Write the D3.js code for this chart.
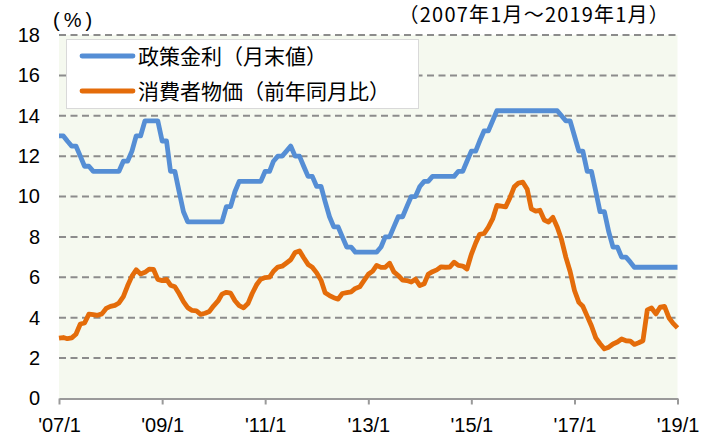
<!DOCTYPE html>
<html>
<head>
<meta charset="utf-8">
<script src="https://cdn.jsdelivr.net/npm/d3@7"></script>
<style>
  body { margin: 0; background: #fff; }
  svg { display: block; }
</style>
</head>
<body>
<div id="chart"></div>
<script>
// monthly values, 2007/1 .. 2019/1
const policyRate = [
  13.00, 13.00, 12.75, 12.50, 12.50, 12.00, 11.50, 11.50, 11.25, 11.25, 11.25, 11.25,
  11.25, 11.25, 11.25, 11.75, 11.75, 12.25, 13.00, 13.00, 13.75, 13.75, 13.75, 13.75,
  12.75, 12.75, 11.25, 11.25, 10.25, 9.25, 8.75, 8.75, 8.75, 8.75, 8.75, 8.75,
  8.75, 8.75, 8.75, 9.50, 9.50, 10.25, 10.75, 10.75, 10.75, 10.75, 10.75, 10.75,
  11.25, 11.25, 11.75, 12.00, 12.00, 12.25, 12.50, 12.00, 12.00, 11.50, 11.00, 11.00,
  10.50, 10.50, 9.75, 9.00, 8.50, 8.50, 8.00, 7.50, 7.50, 7.25, 7.25, 7.25,
  7.25, 7.25, 7.25, 7.50, 8.00, 8.00, 8.50, 9.00, 9.00, 9.50, 10.00, 10.00,
  10.50, 10.75, 10.75, 11.00, 11.00, 11.00, 11.00, 11.00, 11.00, 11.25, 11.25, 11.75,
  12.25, 12.25, 12.75, 13.25, 13.25, 13.75, 14.25, 14.25, 14.25, 14.25, 14.25, 14.25,
  14.25, 14.25, 14.25, 14.25, 14.25, 14.25, 14.25, 14.25, 14.25, 14.00, 13.75, 13.75,
  13.00, 12.25, 12.25, 11.25, 11.25, 10.25, 9.25, 9.25, 8.25, 7.50, 7.50, 7.00,
  7.00, 6.75, 6.50, 6.50, 6.50, 6.50, 6.50, 6.50, 6.50, 6.50, 6.50, 6.50,
  6.50
];

const cpi = [
  2.99, 3.02, 2.96, 3.00, 3.18, 3.69, 3.74, 4.18, 4.15, 4.12, 4.19, 4.46,
  4.56, 4.61, 4.73, 5.04, 5.58, 6.06, 6.37, 6.17, 6.25, 6.41, 6.39, 5.90,
  5.84, 5.90, 5.61, 5.53, 5.20, 4.80, 4.50, 4.36, 4.34, 4.17, 4.22, 4.31,
  4.59, 4.83, 5.17, 5.26, 5.22, 4.84, 4.60, 4.49, 4.70, 5.20, 5.63, 5.91,
  5.99, 6.01, 6.30, 6.51, 6.55, 6.71, 6.87, 7.23, 7.31, 6.97, 6.64, 6.50,
  6.22, 5.85, 5.24, 5.10, 4.99, 4.92, 5.20, 5.24, 5.28, 5.45, 5.53, 5.84,
  6.15, 6.31, 6.59, 6.49, 6.50, 6.70, 6.27, 6.09, 5.86, 5.84, 5.77, 5.91,
  5.59, 5.68, 6.15, 6.28, 6.37, 6.52, 6.50, 6.51, 6.75, 6.59, 6.56, 6.41,
  7.14, 7.70, 8.13, 8.17, 8.47, 8.89, 9.56, 9.53, 9.49, 9.93, 10.48, 10.67,
  10.71, 10.36, 9.39, 9.28, 9.32, 8.84, 8.74, 8.97, 8.48, 7.87, 6.99, 6.29,
  5.35, 4.76, 4.57, 4.08, 3.60, 3.00, 2.71, 2.46, 2.54, 2.70, 2.80, 2.95,
  2.86, 2.84, 2.68, 2.76, 2.86, 4.39, 4.48, 4.19, 4.53, 4.56, 4.00, 3.72,
  3.50
];

const seriesNames = ["政策金利（月末値）", "消費者物価（前年同月比）"];
const seriesColors = ["#558ed5", "#e46c0a"];
const yTicks = [0, 2, 4, 6, 8, 10, 12, 14, 16, 18];
const xTickYears = [2007, 2009, 2011, 2013, 2015, 2017, 2019];
const unitLabel = "(%)";
const periodLabel = "（2007年1月～2019年1月）";

const width = 718, height = 437;
const margin = {top: 35, right: 40.5, bottom: 38.5, left: 59};

const start = new Date(Date.UTC(2007, 0, 1));
const dates = policyRate.map((d, i) => d3.utcMonth.offset(start, i));

const x = d3.scaleUtc()
    .domain([start, dates[dates.length - 1]])
    .range([margin.left, width - margin.right]);

const y = d3.scaleLinear()
    .domain([0, 18])
    .range([height - margin.bottom, margin.top]);

const svg = d3.select("#chart").append("svg")
    .attr("width", width)
    .attr("height", height)
    .style("font-family", "'Liberation Sans', 'Noto Sans CJK JP', sans-serif");

// plot background
svg.append("rect")
    .attr("x", x.range()[0])
    .attr("y", y(18))
    .attr("width", x.range()[1] - x.range()[0])
    .attr("height", y(0) - y(18))
    .attr("fill", "#f5f9ef");

// dashed grid lines
svg.append("g")
  .selectAll("line")
  .data(yTicks.filter(d => d > 0))
  .join("line")
    .attr("x1", x.range()[0])
    .attr("x2", x.range()[1])
    .attr("y1", d => y(d))
    .attr("y2", d => y(d))
    .attr("stroke", "#8c8c8c")
    .attr("stroke-width", 2)
    .attr("stroke-dasharray", "7,4.5");

// y labels
const yAxis = d3.axisLeft(y).tickValues(yTicks).tickSize(0).tickPadding(19);
svg.append("g")
    .attr("transform", `translate(${margin.left},0)`)
    .call(yAxis)
    .call(g => g.select(".domain").remove())
    .call(g => g.selectAll("text")
        .attr("font-size", 20)
        .attr("font-family", "'Liberation Sans', sans-serif")
        .attr("fill", "#000"));

// x axis
const xAxis = d3.axisBottom(x)
    .tickValues(xTickYears.map(yr => new Date(Date.UTC(yr, 0, 1))))
    .tickFormat(d3.utcFormat("'%y/%-m"))
    .tickSizeInner(6)
    .tickSizeOuter(0)
    .tickPadding(13);
svg.append("g")
    .attr("transform", `translate(0,${y(0)})`)
    .call(xAxis)
    .call(g => g.select(".domain").attr("stroke", "#9a9a9a").attr("stroke-width", 2))
    .call(g => g.selectAll(".tick line").attr("stroke", "#9a9a9a").attr("stroke-width", 2))
    .call(g => g.selectAll("text")
        .attr("font-size", 20)
        .attr("font-family", "'Liberation Sans', sans-serif")
        .attr("fill", "#000"));

// lines
const line = d3.line()
    .x((d, i) => x(dates[i]))
    .y(d => y(d));

[policyRate, cpi].forEach((s, k) => {
  svg.append("path")
      .datum(s)
      .attr("fill", "none")
      .attr("stroke", seriesColors[k])
      .attr("stroke-width", 4.8)
      .attr("stroke-linejoin", "round")
      .attr("d", line);
});

// legend
const legend = svg.append("g");
legend.append("rect")
    .attr("x", 66.5)
    .attr("y", 39.5)
    .attr("width", 352)
    .attr("height", 69)
    .attr("fill", "#fff")
    .attr("stroke", "#d9d9d9");

seriesNames.forEach((name, k) => {
  const ly = 56 + k * 35;
  legend.append("line")
      .attr("x1", 82)
      .attr("x2", 133)
      .attr("y1", ly)
      .attr("y2", ly)
      .attr("stroke", seriesColors[k])
      .attr("stroke-width", 4.8)
      .attr("stroke-linecap", "round");
  legend.append("text")
      .attr("x", 138)
      .attr("y", ly)
      .attr("dy", "0.36em")
      .attr("font-size", 21)
      .attr("font-family", "'Noto Sans CJK JP', sans-serif")
      .text(name);
});

// unit and period labels
svg.append("text")
    .attr("x", 53)
    .attr("y", 27)
    .attr("font-size", 20)
    .attr("letter-spacing", 4)
    .attr("font-family", "'Liberation Sans', sans-serif")
    .text(unitLabel);

svg.append("text")
    .attr("x", 670)
    .attr("y", 22)
    .attr("text-anchor", "end")
    .attr("font-size", 20)
    .attr("letter-spacing", 1.2)
    .attr("font-family", "'Noto Sans CJK JP', sans-serif")
    .text(periodLabel);
</script>
</body>
</html>
